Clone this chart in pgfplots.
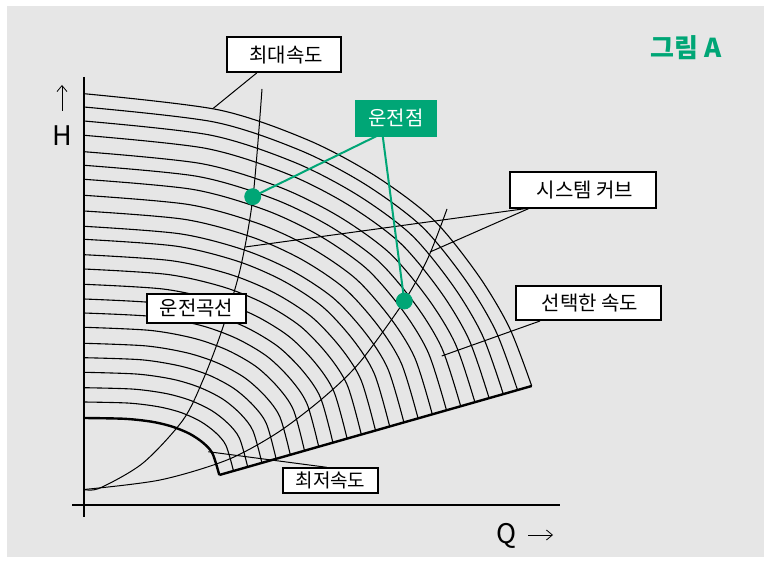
\documentclass[border=0pt]{standalone}
\usepackage{fontspec}
\setmainfont{Noto Sans CJK KR}
\usepackage{pgfplots}
\pgfplotsset{compat=1.18}
\usetikzlibrary{arrows.meta}
\definecolor{bg}{HTML}{E6E6E6}
\definecolor{grn}{HTML}{00A676}
\begin{document}
\begin{tikzpicture}
\begin{axis}[
  width=384.5pt, height=280.5pt, scale only axis,
  xmin=0, xmax=769, ymin=0, ymax=561, y dir=reverse,
  hide axis, clip=false,
  pump/.style={black, line width=0.55pt, smooth, no markers},
  sys/.style={black, line width=0.5pt, smooth, no markers},
]
% background
\fill[white] (0,0) rectangle (769,561);
\fill[bg] (7,6) rectangle (764,557);

% pump curves, lowest (minimum speed) first
\addplot[pump, line width=1.2pt] coordinates {(84,418) (124.6,418.8) (151.7,421.7) (171.9,426.5) (189.5,433.7) (203.1,442.8) (212.5,453.5) (219.3,475)};
\addplot[pump] coordinates {(84,402) (128.9,403.1) (158.8,406.8) (181.2,412.6) (200.6,421.5) (215.6,432.6) (226.0,445.5) (233.5,471.0)};
\addplot[pump] coordinates {(84,387.7) (133.1,389.1) (165.9,393.5) (190.4,400.4) (211.7,410.6) (228.1,423.5) (239.5,438.3) (247.7,466.9)};
\addplot[pump] coordinates {(84,372.3) (137.4,374.1) (173.0,379.3) (199.6,387.4) (222.8,399.1) (240.6,414.0) (253.0,430.9) (261.9,462.9)};
\addplot[pump] coordinates {(84,357.7) (141.6,359.8) (180.1,366.0) (208.9,375.1) (233.8,388.4) (253.0,405.1) (266.5,423.9) (276.1,458.8)};
\addplot[pump] coordinates {(84,343.3) (145.9,345.9) (187.2,352.9) (218.1,363.2) (244.9,377.9) (265.5,396.5) (280.0,417.2) (290.3,454.8)};
\addplot[pump] coordinates {(84,327.3) (150.2,330.4) (194.3,338.4) (227.3,350.1) (256.0,366.5) (278.0,387.3) (293.5,410.1) (304.5,450.7)};
\addplot[pump] coordinates {(84,313) (154.4,316.6) (201.4,325.6) (236.6,338.5) (267.1,356.4) (290.5,379.1) (307.0,403.8) (318.7,446.7)};
\addplot[pump] coordinates {(84,299) (158.7,303.1) (208.5,313.2) (245.8,327.2) (278.1,346.6) (303.0,371.2) (320.5,397.7) (332.9,442.6)};
\addplot[pump] coordinates {(84,284.3) (162.9,289.0) (215.6,300.2) (255.0,315.5) (289.2,336.6) (315.5,363.2) (333.9,391.6) (347.1,438.6)};
\addplot[pump] coordinates {(84,269) (167.2,274.4) (222.7,286.8) (264.2,303.5) (300.3,326.2) (328.0,355.0) (347.4,385.4) (361.3,434.5)};
\addplot[pump] coordinates {(84,254.7) (171.5,260.7) (229.8,274.3) (273.5,292.4) (311.4,316.7) (340.5,347.5) (360.9,379.7) (375.5,430.5)};
\addplot[pump] coordinates {(84,239.3) (175.7,246.1) (236.9,261.0) (282.7,280.6) (322.4,306.6) (353.0,339.7) (374.4,373.9) (389.7,426.5)};
\addplot[pump] coordinates {(84,226.3) (180.0,233.8) (244.0,249.9) (291.9,270.7) (333.5,298.2) (365.5,333.1) (387.9,368.9) (403.9,422.4)};
\addplot[pump] coordinates {(84,211) (184.2,219.3) (251.1,236.8) (301.2,259.2) (344.6,288.5) (378.0,325.7) (401.4,363.5) (418.1,418.4)};
\addplot[pump] coordinates {(84,195.3) (188.5,204.5) (258.2,223.5) (310.4,247.5) (355.7,278.7) (390.5,318.2) (414.9,358.1) (432.3,414.3)};
\addplot[pump] coordinates {(84,179.3) (192.8,189.4) (265.3,210.0) (319.6,235.8) (366.8,268.9) (403.0,310.9) (428.4,353.0) (446.5,410.3)};
\addplot[pump] coordinates {(84,165.3) (197.0,176.3) (272.4,198.4) (328.9,225.7) (377.8,260.5) (415.5,304.6) (441.9,348.3) (460.7,406.2)};
\addplot[pump] coordinates {(84,151.7) (201.3,163.6) (279.5,187.1) (338.1,216.0) (388.9,252.4) (428.0,298.6) (455.4,344.0) (474.9,402.2)};
\addplot[pump] coordinates {(84,135.3) (205.5,148.3) (286.6,173.6) (347.3,204.3) (400.0,242.8) (440.5,291.6) (468.8,339.2) (489.1,398.1)};
\addplot[pump] coordinates {(84,121) (209.8,135.0) (293.7,162.0) (356.5,194.4) (411.1,234.6) (453.0,285.7) (482.3,335.1) (503.3,394.1)};
\addplot[pump] coordinates {(84,107) (214.1,122.0) (300.8,150.6) (365.8,184.7) (422.1,226.8) (465.5,280.1) (495.8,331.1) (517.5,390.0)};
\addplot[pump] coordinates {(84,93.7) (218.3,109.8) (307.9,140.0) (375.0,175.7) (433.2,219.5) (478.0,274.9) (509.3,327.5) (531.7,386.0)};

% end-of-curve boundary
\addplot[black, line width=1.2pt, no markers] coordinates {(219.3,475) (531.7,386)};

% system curves
\addplot[sys] coordinates {(84,489.5) (100,488) (143,463) (183,420) (203,380) (222,330) (240,270) (253,196.7) (262,89)};
\addplot[sys] coordinates {(84,489.5) (160,480) (227,460) (277,433) (323,398) (360,362) (404.3,301) (428,258) (447,209)};

% axes
\draw[black, line width=1pt] (84,77) -- (84,517);
\draw[black, line width=1pt] (72,505) -- (560,505);
\draw[black, line width=0.4pt, -{Straight Barb[length=3pt,width=5pt]}] (62,111) -- (62,85);
\node[font=\fontsize{13.5}{14}\selectfont] at (62,136) {H};
\node[font=\fontsize{13.5}{14}\selectfont] at (507,536) {Q};
\draw[black, line width=0.4pt, -{Straight Barb[length=3pt,width=5pt]}] (528,535) -- (553,535);

% leader lines
\draw[black, line width=0.5pt] (256.7,73) -- (213.3,108.3);
\draw[black, line width=0.5pt] (530,208) -- (245,247);
\draw[black, line width=0.5pt] (530,208) -- (430,252);
\draw[black, line width=0.5pt] (540,321) -- (441.7,356);
\draw[black, line width=0.5pt] (326.7,467.3) -- (208.3,451.7);
\draw[grn, line width=1pt] (376.7,136) -- (252.7,196.7);
\draw[grn, line width=1pt] (382.7,136) -- (404.3,301);

% operating points
\addplot[only marks, mark=*, mark size=4pt, color=grn] coordinates {(252.7,196.7) (404.3,301)};

% label boxes
\draw[black, line width=1pt, fill=white] (227.3,37.3) rectangle (341.3,72);
\node[font=\fontsize{10}{11}\selectfont] at (286,54.7) {최대속도};
\fill[grn] (355,100) rectangle (436.7,136.7);
\node[font=\fontsize{10}{11}\selectfont, text=white] at (395.8,118.3) {운전점};
\draw[black, line width=1pt, fill=white] (510,172) rectangle (656,208);
\node[font=\fontsize{10}{11}\selectfont] at (585,190) {시스템 커브};
\draw[black, line width=1pt, fill=white] (516,286) rectangle (661,320);
\node[font=\fontsize{10}{11}\selectfont] at (590,303) {선택한 속도};
\draw[black, line width=1pt, fill=white] (147,294) rectangle (246,323);
\node[font=\fontsize{10}{11}\selectfont] at (196.5,308.5) {운전곡선};
\draw[black, line width=1pt, fill=white] (282.7,467.7) rectangle (378.3,492.7);
\node[font=\fontsize{9.5}{10}\selectfont] at (330.5,480.2) {최저속도};

\node[font=\fontsize{13}{14}\selectfont\bfseries, text=grn] at (686,48) {그림 A};
\end{axis}
\end{tikzpicture}
\end{document}
